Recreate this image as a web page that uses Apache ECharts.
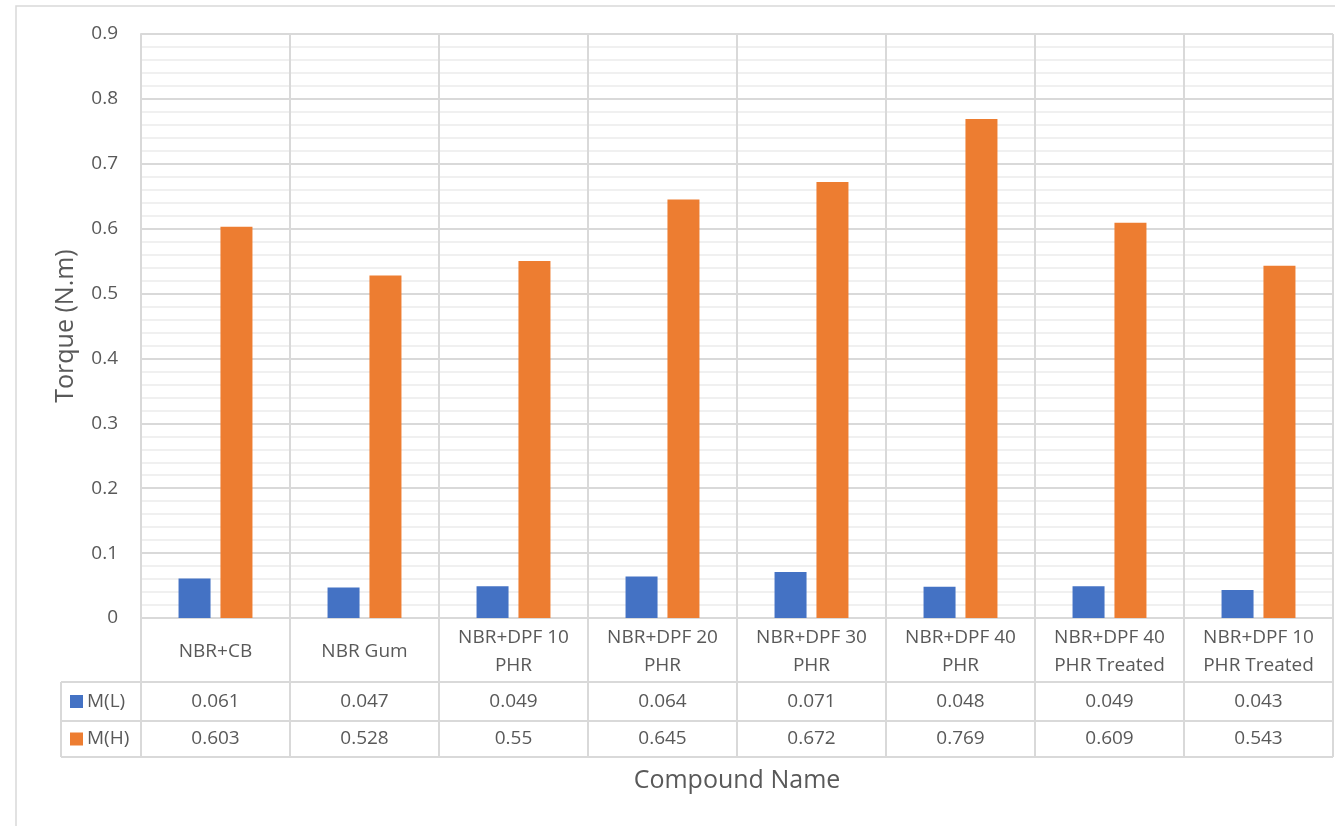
<!DOCTYPE html>
<html>
<head>
<meta charset="utf-8">
<title>Torque by compound</title>
<script src="https://cdn.jsdelivr.net/npm/echarts@6/dist/echarts.min.js"></script>
<style>
  html, body { margin: 0; padding: 0; background: #ffffff; }
  #chart { width: 1335px; height: 826px; }
</style>
</head>
<body>
<div id="chart"></div>
<script>
// data
const categories = [
  "NBR+CB",
  "NBR Gum",
  "NBR+DPF 10\nPHR",
  "NBR+DPF 20\nPHR",
  "NBR+DPF 30\nPHR",
  "NBR+DPF 40\nPHR",
  "NBR+DPF 40\nPHR Treated",
  "NBR+DPF 10\nPHR Treated",
];
const seriesNames = ["M(L)", "M(H)"];
const mLow = [0.061, 0.047, 0.049, 0.064, 0.071, 0.048, 0.049, 0.043];
const mHigh = [0.603, 0.528, 0.55, 0.645, 0.672, 0.769, 0.609, 0.543];
const yTicks = [0, 0.1, 0.2, 0.3, 0.4, 0.5, 0.6, 0.7, 0.8, 0.9];

const colors = ["#4472C4", "#ED7D31"];
const textColor = "#595959";
const lineColor = "#d9d9d9";
const fontFamily = "'Open Sans', 'Noto Sans', sans-serif";

// layout (pixels)
const grid = { left: 141, right: 2, top: 34, bottom: 208 };
const chartH = 826;
const axisY = chartH - grid.bottom;
const headerH = 64;
const rowHeights = [39, 36];
const legendLeft = 61;

const chart = echarts.init(document.getElementById("chart"));

chart.setOption({
  animation: false,
  backgroundColor: "#ffffff",
  textStyle: { fontFamily },
  grid: { ...grid, containLabel: false },
  xAxis: {
    type: "category",
    data: categories,
    name: "Compound Name",
    nameLocation: "middle",
    nameGap: 150,
    nameTextStyle: { color: textColor, fontSize: 25, fontFamily },
    axisLine: { show: true, lineStyle: { color: lineColor, width: 2 } },
    axisTick: { show: false },
    axisLabel: {
      interval: 0,
      color: textColor,
      fontSize: 19,
      lineHeight: 28,
      verticalAlign: "middle",
      margin: 34,
      fontFamily,
    },
    splitLine: { show: true, interval: 0, lineStyle: { color: lineColor, width: 2 } },
  },
  yAxis: {
    type: "value",
    min: 0,
    max: 0.9,
    interval: 0.1,
    name: "Torque (N.m)",
    nameLocation: "middle",
    nameGap: 63,
    nameTextStyle: { color: textColor, fontSize: 25, fontFamily },
    axisLine: { show: true, lineStyle: { color: lineColor, width: 2 } },
    axisTick: { show: false },
    axisLabel: {
      color: textColor,
      fontSize: 19,
      margin: 23,
      fontFamily,
      formatter: (v) => {
        const t = yTicks.find((k) => Math.abs(k - v) < 1e-9);
        return String(t !== undefined ? t : v);
      },
    },
    splitLine: { show: true, lineStyle: { color: lineColor, width: 2 } },
    minorTick: { show: false, splitNumber: 5 },
    minorSplitLine: { show: true, lineStyle: { color: "#f0f0f0", width: 2 } },
  },
  series: [
    {
      name: seriesNames[0],
      type: "bar",
      data: mLow,
      barWidth: 32,
      barGap: "31%",
      itemStyle: { color: colors[0] },
    },
    {
      name: seriesNames[1],
      type: "bar",
      data: mHigh,
      barWidth: 32,
      itemStyle: { color: colors[1] },
    },
  ],
});

// data table under the plot, positioned from the category axis
function buildTable() {
  const centers = categories.map((_, i) => chart.convertToPixel({ xAxisIndex: 0 }, i));
  const step = centers.length > 1 ? centers[1] - centers[0] : 0;
  const bounds = centers.map((c) => c - step / 2).concat([centers[centers.length - 1] + step / 2]);
  const right = bounds[bounds.length - 1];

  const rowTops = [axisY + headerH];
  rowHeights.forEach((h) => rowTops.push(rowTops[rowTops.length - 1] + h));
  const tableBottom = rowTops[rowTops.length - 1];

  const lineStyle = { stroke: lineColor, lineWidth: 2 };
  const elements = [];

  // outer chart-area border
  elements.push({
    type: "rect",
    shape: { x: 16, y: 6, width: 1400, height: 900 },
    style: { fill: null, stroke: lineColor, lineWidth: 1.5 },
    silent: true,
  });

  bounds.forEach((x) => {
    elements.push({ type: "line", shape: { x1: x, y1: axisY, x2: x, y2: tableBottom }, style: lineStyle });
  });
  elements.push({
    type: "line",
    shape: { x1: legendLeft, y1: rowTops[0], x2: legendLeft, y2: tableBottom },
    style: lineStyle,
  });
  rowTops.forEach((y) => {
    elements.push({ type: "line", shape: { x1: legendLeft, y1: y, x2: right, y2: y }, style: lineStyle });
  });

  const rows = [mLow, mHigh];
  rows.forEach((values, r) => {
    const cy = (rowTops[r] + rowTops[r + 1]) / 2;
    elements.push({
      type: "rect",
      shape: { x: legendLeft + 9, y: cy - 6.5, width: 13, height: 13 },
      style: { fill: colors[r] },
    });
    elements.push({
      type: "text",
      style: {
        x: legendLeft + 26,
        y: cy,
        text: seriesNames[r],
        fill: textColor,
        font: "19px " + fontFamily,
        textAlign: "left",
        textVerticalAlign: "middle",
      },
    });
    values.forEach((v, i) => {
      elements.push({
        type: "text",
        style: {
          x: centers[i],
          y: cy,
          text: String(v),
          fill: textColor,
          font: "19px " + fontFamily,
          textAlign: "center",
          textVerticalAlign: "middle",
        },
      });
    });
  });

  chart.setOption({ graphic: elements });
}

buildTable();
</script>
</body>
</html>
